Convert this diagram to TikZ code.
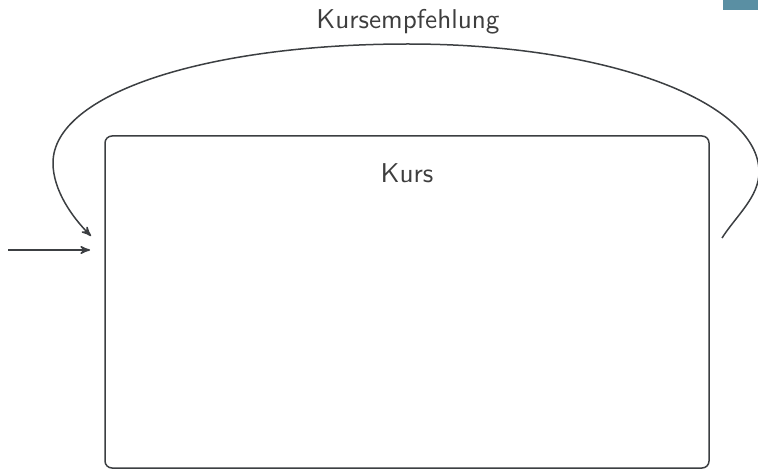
\documentclass[tikz,border=0pt]{standalone}
\usepackage{fontspec}
\setsansfont{lmsans10-regular.otf}
\usetikzlibrary{shapes,arrows,positioning}
\definecolor{linegray}{RGB}{60,63,66}
\definecolor{textgray}{RGB}{62,62,62}
\definecolor{headteal}{RGB}{90,143,163}
\tikzstyle{coursebox} = [rectangle, draw=linegray, line width=0.75pt, rounded corners=3.5pt, minimum width=302pt, minimum height=166pt, inner sep=0pt]
\tikzstyle{caption}   = [text=textgray, font=\sffamily\fontsize{13.6}{16}\selectfont, inner sep=0pt]
\tikzstyle{line}      = [draw=linegray, line width=0.75pt, -stealth']

\begin{document}
\begin{tikzpicture}[x=0.5pt, y=-0.5pt]
        \useasboundingbox (0,0) rectangle (758,470);
        \fill [headteal] (723,0) rectangle (758,10);

        \node [coursebox] (kurs) at (407,302) {};
        \node [caption, below=14.2pt of kurs.north] (kursname) {Kurs};

        \coordinate (source) at (8,250);
        \coordinate (entry) at (90,250);
        \coordinate (loopout) at (722,238);
        \coordinate (loopin) at (91,236);
        \coordinate (apex) at (408,44);
        \node [caption, above=4.6pt of apex] (empfehlung) {Kursempfehlung};

        \path [line] (source) -- (entry);
        \path [line] (loopout) .. controls (736,216) and (759,197) .. (759,172)
          .. controls (759,102) and (608,44) .. (apex)
          .. controls (208,44) and (53,93) .. (53,163)
          .. controls (53,190) and (72,217) .. (loopin);
      \end{tikzpicture}
\end{document}
